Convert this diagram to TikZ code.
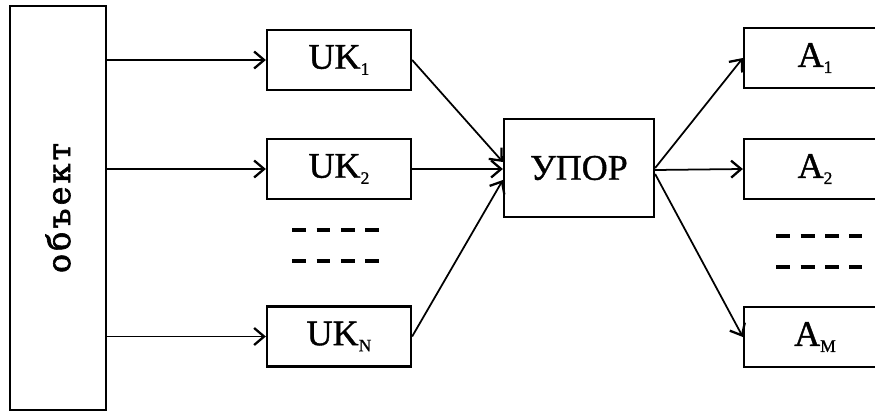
\documentclass[tikz,border=0pt]{standalone}
\usepackage{fontspec}
\setmainfont{Liberation Serif}[FakeBold=1]
\newfontfamily\objfont{DejaVu Serif}[LetterSpace=10,FakeBold=2]
\usetikzlibrary{arrows.meta}
\newcommand{\idx}[1]{\raisebox{-0.17em}{\fontsize{10}{11}\selectfont #1}}

\begin{document}
\begin{tikzpicture}[x=0.02cm,y=-0.02cm,
  box/.style={draw,line width=1.3pt,minimum width=2.88cm,minimum height=1.2cm,font=\fontsize{20.5}{23}\selectfont},
  link/.style={line width=1pt,-{Straight Barb[length=2mm,width=3.4mm,line width=1.3pt]}},
  gap/.style={line width=2.2pt,dash pattern=on 0.28cm off 0.21cm}]
\path[use as bounding box,clip] (0,0) rectangle (875,412);

\node[draw,line width=1.3pt,minimum width=1.92cm,minimum height=8.08cm] (obj) at (58,208)
  {\rotatebox{90}{\objfont\fontsize{18}{20}\selectfont объект}};

\node[box] (uk1) at (339,60) {UK\idx{1}};
\node[box] (uk2) at (339,169) {UK\idx{2}};
\node[box] (ukn) at (339,336.5) {UK\idx{N}};

\node[box,minimum width=3cm,minimum height=1.96cm] (upor) at (579,168) {УПОР};

\node[box,minimum width=2.84cm] (a1) at (815,58) {A\idx{1}};
\node[box,minimum width=2.84cm] (a2) at (815,169) {A\idx{2}};
\node[box,minimum width=2.84cm] (am) at (815,337) {A\idx{M}};

% inputs
\draw[link] (obj.east |- uk1) -- (uk1.west);
\draw[link] (obj.east |- uk2) -- (uk2.west);
\draw[link] (obj.east |- ukn) -- (ukn.west);

\draw[link] (uk1.east) -- ([yshift=0.12cm]upor.west);
\draw[link] (uk2.east) -- ([yshift=-0.02cm]upor.west);
\draw[link] (ukn.east) -- ([yshift=-0.24cm]upor.west);

% outputs
\draw[link] (upor.east) -- (a1.west);
\draw[link] ([yshift=-0.04cm]upor.east) -- (a2.west);
\draw[link] ([yshift=-0.12cm]upor.east) -- (am.west);

\draw[gap] (292,230) -- (379,230);
\draw[gap] (292,261) -- (379,261);
\draw[gap] (776,236) -- (862,236);
\draw[gap] (776,267) -- (862,267);
\end{tikzpicture}
\end{document}
